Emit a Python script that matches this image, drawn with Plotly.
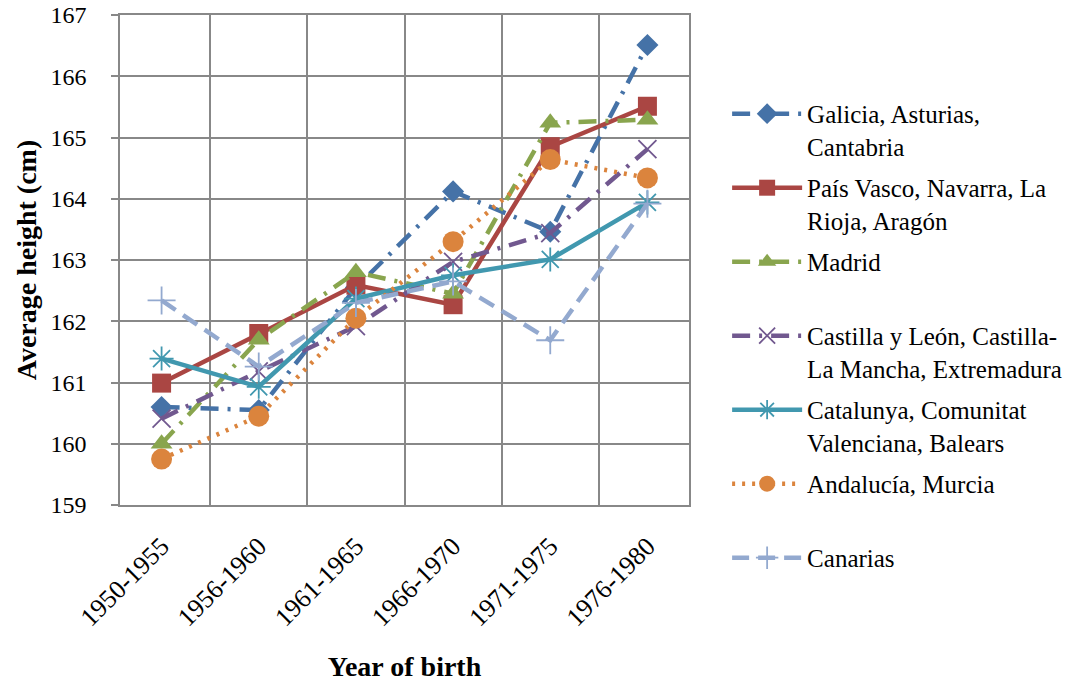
import plotly.graph_objects as go

categories = ["1950-1955", "1956-1960", "1961-1965", "1966-1970", "1971-1975", "1976-1980"]

galicia = [160.60, 160.55, 162.55, 164.12, 163.46, 166.51]
pais_vasco = [160.99, 161.80, 162.59, 162.27, 164.85, 165.51]
madrid = [160.00, 161.70, 162.80, 162.45, 165.24, 165.29]
castilla = [160.41, 161.18, 161.92, 162.97, 163.44, 164.81]
catalunya = [161.39, 160.93, 162.37, 162.75, 163.01, 163.94]
andalucia = [159.75, 160.45, 162.05, 163.30, 164.64, 164.34]
canarias = [162.34, 161.26, 162.30, 162.65, 161.69, 163.92]

names = [
    "Galicia, Asturias,<br>Cantabria",
    "País Vasco, Navarra, La<br>Rioja, Aragón",
    "Madrid<br> ",
    "Castilla y León, Castilla-<br>La Mancha, Extremadura",
    "Catalunya, Comunitat<br>Valenciana, Balears",
    "Andalucía, Murcia<br> ",
    "Canarias",
]

series = [galicia, pais_vasco, madrid, castilla, catalunya, andalucia, canarias]
colors = ["#4572A7", "#AA4643", "#89A54E", "#71588F", "#4198AF", "#DB843D", "#93A9CF"]
dashes = ["18px,9px,3px,9px", "solid", "18px,9px,3px,9px", "18px,9px,3px,9px",
          "solid", "3px,7px", "17px,9px"]
symbols = ["diamond", "square", "triangle-up", "x-thin", "asterisk", "circle", "cross-thin"]
sizes = [17, 19, 19, 18, 20, 21, 20]

fig = go.Figure()
for i, (nm, ys, c, d, s, sz) in enumerate(zip(names, series, colors, dashes, symbols, sizes)):
    thin = s in ("x-thin", "asterisk", "cross-thin")
    fig.add_trace(go.Scatter(
        x=categories, y=ys, name=nm, mode="lines+markers",
        legendgroup=f"g{i}",
        line=dict(color=c, width=4.5, dash=d),
        marker=dict(symbol=s, size=sz, color=c,
                    line=dict(color=c, width=1.8 if thin else 0)),
    ))

grid = "#888888"
serif = "Liberation Serif"

fig.update_layout(
    width=1086, height=683,
    margin=dict(l=120, r=397, t=15, b=178, autoexpand=False),
    paper_bgcolor="white", plot_bgcolor="white",
    font=dict(family=serif, size=24, color="black"),
    showlegend=True,
    legend=dict(
        x=1.067, xanchor="left", y=0.845, yanchor="top",
        font=dict(family=serif, size=25, color="black"),
        itemwidth=70, valign="top", tracegroupgap=6,
        bgcolor="rgba(0,0,0,0)", maxheight=1.0,
    ),
    xaxis=dict(
        type="category", tickson="boundaries", tickangle=-45,
        showgrid=True, gridcolor=grid, gridwidth=1.5,
        showline=True, linecolor=grid, linewidth=1.5, mirror=True,
        ticks="", ticklabelstandoff=14, automargin=False,
        ticklabeloverflow="allow",
        tickfont=dict(family=serif, size=26, color="black"),
        title=dict(text="<b>Year of birth</b>", font=dict(family=serif, size=28), standoff=25),
    ),
    yaxis=dict(
        range=[159, 167], dtick=1,
        showgrid=True, gridcolor=grid, gridwidth=1.5,
        showline=True, linecolor=grid, linewidth=1.5, mirror=True,
        ticks="outside", ticklen=7, tickcolor=grid, tickwidth=1.5,
        ticklabelstandoff=20, automargin=False,
        ticklabeloverflow="allow",
        tickfont=dict(family=serif, size=24, color="black"),
        title=dict(text="<b>Average height (cm)</b>", font=dict(family=serif, size=28), standoff=6),
    ),
)

# remove the browser's default 8px body margin so the figure fills the window exactly
fig.write_html("out.html", config={"displayModeBar": False},
               post_script="document.body.style.margin='0';")
